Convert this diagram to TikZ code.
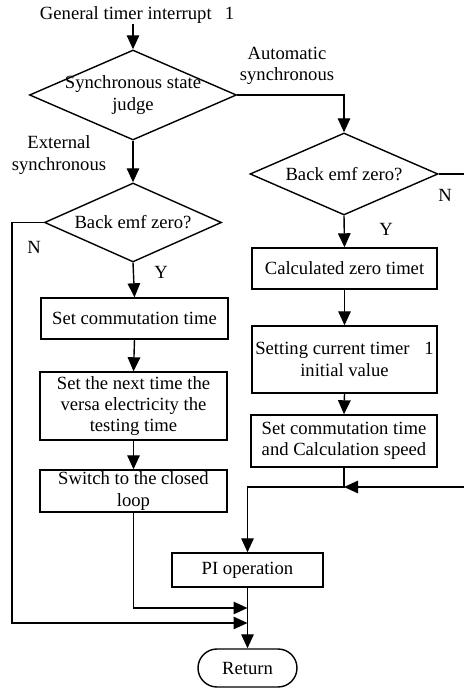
\documentclass[tikz,border=0pt]{standalone}
\usepackage{amsmath}
\usepackage{amssymb}
\usepackage{fontspec}
\setmainfont{Liberation Serif}
\usepackage{tikz}
\usepackage{xcolor}
\usetikzlibrary{shapes.geometric,shapes.misc,arrows.meta}

\begin{document}
\begin{tikzpicture}[x=1cm,y=1cm,
  txt/.style={font=\fontsize{10.6}{12.2}\selectfont,align=center,inner sep=0pt},
  proc/.style={txt,draw,thick,rectangle,minimum width=3.74cm,minimum height=0.82cm},
  judge/.style={txt,draw,thick,diamond,inner sep=-4pt,shape aspect=2.3},
  flow/.style={thick,-{Triangle[length=2.8mm,width=2.5mm]}}]
\useasboundingbox (0,0) rectangle (9.26,13.8);
\node[txt] (start) at (2.74,13.5) {General timer interrupt\hspace{0.7em}1};
\node[judge,minimum width=4.14cm,minimum height=1.8cm] (sync) at (2.66,11.9) {Synchronous state\\judge};
\node[txt] (autoLbl) at (5.74,12.48) {Automatic\\synchronous};
\node[txt] (extLbl) at (1.18,10.7) {External\\synchronous};
\node[judge,minimum width=3.54cm,minimum height=1.58cm] (bemfL) at (2.66,9.35) {Back emf zero?};
\node[judge,minimum width=3.76cm,minimum height=1.64cm] (bemfR) at (6.88,10.32) {Back emf zero?};
\node[txt] (nL) at (0.68,8.86) {N};
\node[txt] (yL) at (3.22,8.36) {Y};
\node[txt] (nR) at (8.9,9.9) {N};
\node[txt] (yR) at (7.72,9.22) {Y};
\node[proc] (setcomL) at (2.69,7.43) {Set commutation time};
\node[proc,minimum height=1.36cm] (nextL) at (2.67,5.68) {Set the next time the\\versa electricity the\\testing time};
\node[proc,minimum height=0.84cm] (closeL) at (2.67,3.98) {Switch to the closed\\loop};
\node[proc,minimum width=3.7cm] (zeroR) at (6.89,8.43) {Calculated zero timet};
\node[proc,minimum width=3.7cm,minimum height=1.34cm] (initR) at (6.89,6.61) {Setting current timer\hspace{0.8em}1\\initial value};
\node[proc,minimum width=3.72cm,minimum height=1.04cm,align=left] (speedR) at (6.88,4.98) {Set commutation time\\and Calculation speed};
\node[proc,minimum width=3.02cm,minimum height=0.68cm] (pi) at (4.95,2.4) {PI operation};
\node[txt,draw,thick,rounded rectangle,minimum width=1.98cm,minimum height=0.76cm] (ret) at (4.95,0.44) {Return};
\coordinate (mergeR) at (speedR.south |- 0,4.06);
\coordinate (railR) at (9.32,4.06);
\coordinate (railL) at (0.24,1.34);
\coordinate (joinA) at (pi.south |- 0,1.64);
\coordinate (joinB) at (pi.south |- railL);
\draw[flow] (start.south -| sync.north) -- (sync.north);
\draw[flow] (sync.south) -- (bemfL.north);
\draw[flow] (sync.east) -| (bemfR.north);
\draw[flow] (bemfL.south) -- (setcomL.north);
\draw[flow] (setcomL.south) -- (nextL.north);
\draw[flow] (nextL.south) -- (closeL.north);
\draw[flow] (closeL.south) |- (joinA);
\draw[flow] (bemfL.west) -| (railL) -- (joinB);
\draw[flow] (bemfR.south) -- (zeroR.north);
\draw[flow] (zeroR.south) -- (initR.north);
\draw[flow] (initR.south) -- (speedR.north);
\draw[flow] (bemfR.east) -| (railR) -- (mergeR);
\draw[flow] (speedR.south) -- (mergeR) -| (pi.north);
\draw[flow] (pi.south) -- (ret.north);
\end{tikzpicture}
\end{document}
